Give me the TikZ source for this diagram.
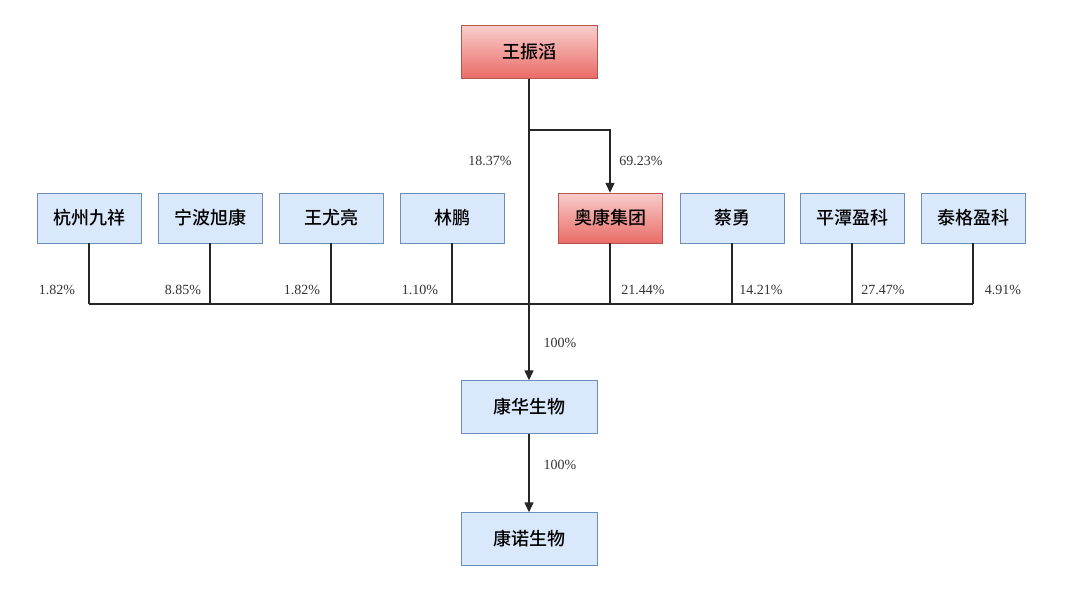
\documentclass[tikz,border=0pt]{standalone}
\usepackage{fontspec}
\setmainfont{Liberation Serif}
\newfontfamily\cjk{Noto Sans CJK SC Medium}[BoldFont={Noto Sans CJK SC Bold}]
\usetikzlibrary{arrows.meta}
\definecolor{bfill}{HTML}{DAE8FC}
\definecolor{bdraw}{HTML}{6C8EBF}
\definecolor{rtop}{HTML}{F8CECC}
\definecolor{rbot}{HTML}{EA6B66}
\definecolor{rdraw}{HTML}{B85450}
\tikzset{
  bx/.style={draw=bdraw,fill=bfill,minimum width=104pt,minimum height=50pt,font=\cjk\fontsize{18}{18}\selectfont,inner sep=0pt},
  rbx/.style={bx,draw=rdraw,top color=rtop,bottom color=rbot},
  wide/.style={minimum width=136pt,minimum height=53pt},
  ln/.style={line width=1.4pt,black!85},
  arr/.style={ln,-{Triangle[length=10pt,width=9pt]}},
  pct/.style={font=\fontsize{14}{14}\selectfont,inner sep=1pt,text=black!80}
}
\begin{document}
\begin{tikzpicture}[x=1pt,y=-1pt]
\useasboundingbox[fill=white] (0,0) rectangle (1080,592);
\node[rbx,wide] (wang) at (529,52) {王振滔};
\node[bx] (b1) at (89,218) {杭州九祥};
\node[bx] (b2) at (210,218) {宁波旭康};
\node[bx] (b3) at (331,218) {王尤亮};
\node[bx] (b4) at (452,218) {林鹏};
\node[rbx] (ak) at (610,218) {奥康集团};
\node[bx] (b6) at (732,218) {蔡勇};
\node[bx] (b7) at (852,218) {平潭盈科};
\node[bx] (b8) at (973,218) {泰格盈科};
\node[bx,wide] (kh) at (529,407) {康华生物};
\node[bx,wide] (kn) at (529,539) {康诺生物};
\coordinate (split) at (529,130);
\coordinate (L) at (89,304);
\coordinate (R) at (973,304);
\draw[ln] (L) -- (R);
\foreach \n in {b1,b2,b3,b4,ak,b6,b7,b8} \draw[ln] (\n.south) -- (\n.south |- L);
\draw[arr] (wang.south) -- (kh.north);
\draw[arr] (split) -| (ak.north);
\draw[arr] (kh.south) -- (kn.north);
\node[pct] at (490,161) {18.37\%};
\node[pct] at (641,161) {69.23\%};
\node[pct] at (57,290) {1.82\%};
\node[pct] at (183,290) {8.85\%};
\node[pct] at (302,290) {1.82\%};
\node[pct] at (420,290) {1.10\%};
\node[pct] at (643,290) {21.44\%};
\node[pct] at (761,290) {14.21\%};
\node[pct] at (883,290) {27.47\%};
\node[pct] at (1003,290) {4.91\%};
\node[pct] at (560,343) {100\%};
\node[pct] at (560,465) {100\%};
\end{tikzpicture}
\end{document}
